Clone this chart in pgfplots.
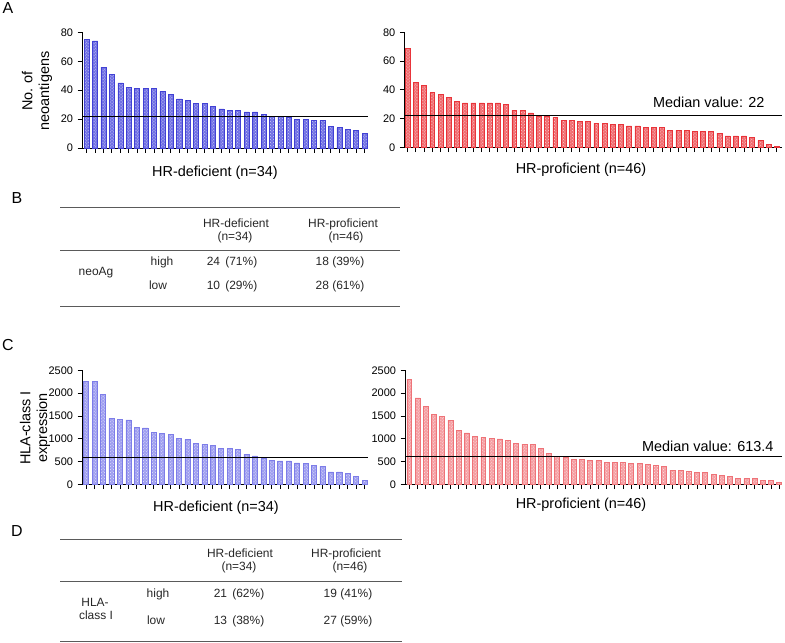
\documentclass[border=0pt]{standalone}
\usepackage{fontspec}
\setmainfont{Liberation Sans}
\usepackage{pgfplots}
\pgfplotsset{compat=1.18}
\usetikzlibrary{patterns}

\definecolor{blueA}{RGB}{65,65,212}
\definecolor{blueAfill}{RGB}{112,112,228}
\definecolor{blueC}{RGB}{125,125,232}
\definecolor{blueCfill}{RGB}{158,158,240}
\definecolor{redA}{RGB}{232,52,58}
\definecolor{redAfill}{RGB}{240,108,112}
\definecolor{redC}{RGB}{238,115,120}
\definecolor{redCfill}{RGB}{245,158,162}
\definecolor{rulegray}{RGB}{90,90,90}

\pgfplotsset{
  barpanel/.style={
    scale only axis,
    axis x line=bottom, axis y line=left,
    axis line style={line width=1bp, -},
    ymin=0,
    xtick=data, xticklabels={},
    tick align=outside, major tick length=4.5bp,
    tick style={line width=0.9bp, black},
    yticklabel style={font=\fontsize{11}{12}\selectfont, xshift=-1bp},
    /pgf/number format/assume math mode=true,
    /pgf/number format/1000 sep={},
    clip=false,
  },
  medline/.style={sharp plot, black, line width=0.8bp, forget plot},
}

\begin{document}
\begin{tikzpicture}
\useasboundingbox (0,0) rectangle (785bp,-643bp);

% ---------------- A ----------------
\node[font=\fontsize{16}{18}\selectfont] at (8bp,-8bp) {A};

\begin{axis}[barpanel, at={(82bp,-148bp)}, anchor=south west,
  width=286bp, height=115.7bp, xmin=-0.55, xmax=33.4, ymax=80,
  ytick={0,20,40,60,80}]
\addplot[ybar, bar width=0.6, draw=blueA, fill=blueAfill, line width=0.6bp,
  postaction={pattern=crosshatch dots, pattern color=white!75!blueA}] coordinates {
  (0,75) (1,74) (2,56) (3,51) (4,45) (5,42) (6,41) (7,41) (8,41) (9,39)
  (10,37) (11,34) (12,33) (13,31) (14,31) (15,29) (16,27) (17,26) (18,26) (19,25)
  (20,25) (21,23) (22,22) (23,22) (24,21) (25,20) (26,20) (27,19) (28,19) (29,15)
  (30,14) (31,13) (32,12) (33,10)};
\addplot[medline] coordinates {(-0.55,22) (33.4,22)};
\end{axis}
\node[font=\fontsize{14.5}{17}\selectfont, rotate=90, align=center] at (37bp,-91bp) {No. of\\neoantigens};
\node[font=\fontsize{14.5}{16}\selectfont] at (215bp,-173bp) {HR-deficient (n=34)};

\begin{axis}[barpanel, at={(404.3bp,-147.5bp)}, anchor=south west,
  width=377.4bp, height=115.2bp, xmin=-0.41, xmax=45.6, ymax=80,
  ytick={0,20,40,60,80}]
\addplot[ybar, bar width=0.6, draw=redA, fill=redAfill, line width=0.6bp,
  postaction={pattern=crosshatch dots, pattern color=white!75!redA}] coordinates {
  (0,69) (1,45) (2,43) (3,38) (4,37) (5,35) (6,32) (7,31) (8,31) (9,31)
  (10,31) (11,31) (12,30) (13,26) (14,26) (15,24) (16,22) (17,22) (18,21) (19,19)
  (20,19) (21,18) (22,18) (23,17) (24,17) (25,16) (26,16) (27,15) (28,15) (29,14)
  (30,14) (31,14) (32,12) (33,12) (34,12) (35,11) (36,11) (37,11) (38,10) (39,8)
  (40,8) (41,8) (42,7) (43,5) (44,2) (45,1)};
\addplot[medline] coordinates {(-0.41,22) (45.6,22)};
\end{axis}
\node[font=\fontsize{14.5}{16}\selectfont, anchor=east] at (768bp,-102bp) {Median value: 22};
\node[font=\fontsize{14.5}{16}\selectfont] at (581bp,-170bp) {HR-proficient (n=46)};

% ---------------- B ----------------
\node[font=\fontsize{16}{18}\selectfont] at (17bp,-198bp) {B};
\draw[rulegray, line width=0.8bp] (60bp,-207bp) -- (400bp,-207bp);
\draw[rulegray, line width=0.8bp] (60bp,-250bp) -- (400bp,-250bp);
\draw[rulegray, line width=0.8bp] (60bp,-306bp) -- (400bp,-306bp);
\begin{scope}[every node/.style={font=\fontsize{12}{14}\selectfont, text=black!85, anchor=base, inner sep=0pt}]
\node at (236bp,-227.3bp) {HR-deficient};
\node at (235bp,-240.3bp) {(n=34)};
\node at (343bp,-227.3bp) {HR-proficient};
\node at (346bp,-240.3bp) {(n=46)};
\node at (162bp,-265bp) {high};
\node at (158bp,-289.5bp) {low};
\node at (96bp,-275bp) {neoAg};
\node at (232bp,-265bp) {24\ \,(71\%)};
\node at (232bp,-289.5bp) {10\ \,(29\%)};
\node at (340bp,-265bp) {18 (39\%)};
\node at (340bp,-289.5bp) {28 (61\%)};
\end{scope}

% ---------------- C ----------------
\node[font=\fontsize{16}{18}\selectfont] at (8bp,-345bp) {C};

\begin{axis}[barpanel, at={(82bp,-484.7bp)}, anchor=south west,
  width=286bp, height=114.4bp, xmin=-0.5, xmax=33.4, ymax=2500,
  ytick={0,500,1000,1500,2000,2500}]
\addplot[ybar, bar width=0.6, draw=blueC, fill=blueCfill, line width=0.6bp,
  postaction={pattern=crosshatch dots, pattern color=white!80!blueC}] coordinates {
  (0,2265) (1,2265) (2,1975) (3,1450) (4,1430) (5,1415) (6,1255) (7,1240) (8,1150) (9,1125)
  (10,1100) (11,1020) (12,990) (13,900) (14,880) (15,860) (16,800) (17,800) (18,780) (19,670)
  (20,630) (21,570) (22,525) (23,520) (24,520) (25,475) (26,460) (27,430) (28,400) (29,280)
  (30,280) (31,250) (32,190) (33,95)};
\addplot[medline] coordinates {(-0.5,590) (33.4,590)};
\end{axis}
\node[font=\fontsize{14.5}{17}\selectfont, rotate=90, align=center] at (35bp,-428bp) {HLA-class I\\expression};
\node[font=\fontsize{14.5}{16}\selectfont] at (216bp,-508bp) {HR-deficient (n=34)};

\begin{axis}[barpanel, at={(405bp,-484.7bp)}, anchor=south west,
  width=376.7bp, height=114.4bp, xmin=-0.52, xmax=45.3, ymax=2500,
  ytick={0,500,1000,1500,2000,2500}]
\addplot[ybar, bar width=0.6, draw=redC, fill=redCfill, line width=0.6bp,
  postaction={pattern=crosshatch dots, pattern color=white!80!redC}] coordinates {
  (0,2310) (1,1895) (2,1720) (3,1538) (4,1501) (5,1414) (6,1181) (7,1130) (8,1064) (9,1035)
  (10,1020) (11,999) (12,969) (13,911) (14,889) (15,889) (16,802) (17,685) (18,612) (19,590)
  (20,554) (21,554) (22,539) (23,525) (24,488) (25,481) (26,481) (27,474) (28,466) (29,445)
  (30,415) (31,408) (32,321) (33,321) (34,284) (35,277) (36,262) (37,233) (38,197) (39,182)
  (40,138) (41,131) (42,131) (43,95) (44,87) (45,51)};
\addplot[medline] coordinates {(-0.52,613.4) (45.3,613.4)};
\end{axis}
\node[font=\fontsize{14.5}{16}\selectfont, anchor=east] at (777bp,-446bp) {Median value: 613.4};
\node[font=\fontsize{14.5}{16}\selectfont] at (581bp,-505bp) {HR-proficient (n=46)};

% ---------------- D ----------------
\node[font=\fontsize{16}{18}\selectfont] at (17bp,-531bp) {D};
\draw[rulegray, line width=0.8bp] (60bp,-539bp) -- (402bp,-539bp);
\draw[rulegray, line width=0.8bp] (60bp,-581bp) -- (402bp,-581bp);
\draw[rulegray, line width=0.8bp] (60bp,-641bp) -- (402bp,-641bp);
\begin{scope}[every node/.style={font=\fontsize{12}{14}\selectfont, text=black!85, anchor=base, inner sep=0pt}]
\node at (240bp,-557.3bp) {HR-deficient};
\node at (239bp,-570.3bp) {(n=34)};
\node at (346bp,-557.3bp) {HR-proficient};
\node at (350bp,-570.3bp) {(n=46)};
\node at (158bp,-597.3bp) {high};
\node at (156bp,-624.3bp) {low};
\node at (95bp,-606.2bp) {HLA-};
\node at (96bp,-619.5bp) {class I};
\node at (239bp,-597.3bp) {21\ \,(62\%)};
\node at (239bp,-624.3bp) {13\ \,(38\%)};
\node at (348bp,-597.3bp) {19 (41\%)};
\node at (348bp,-624.3bp) {27 (59\%)};
\end{scope}
\end{tikzpicture}
\end{document}
